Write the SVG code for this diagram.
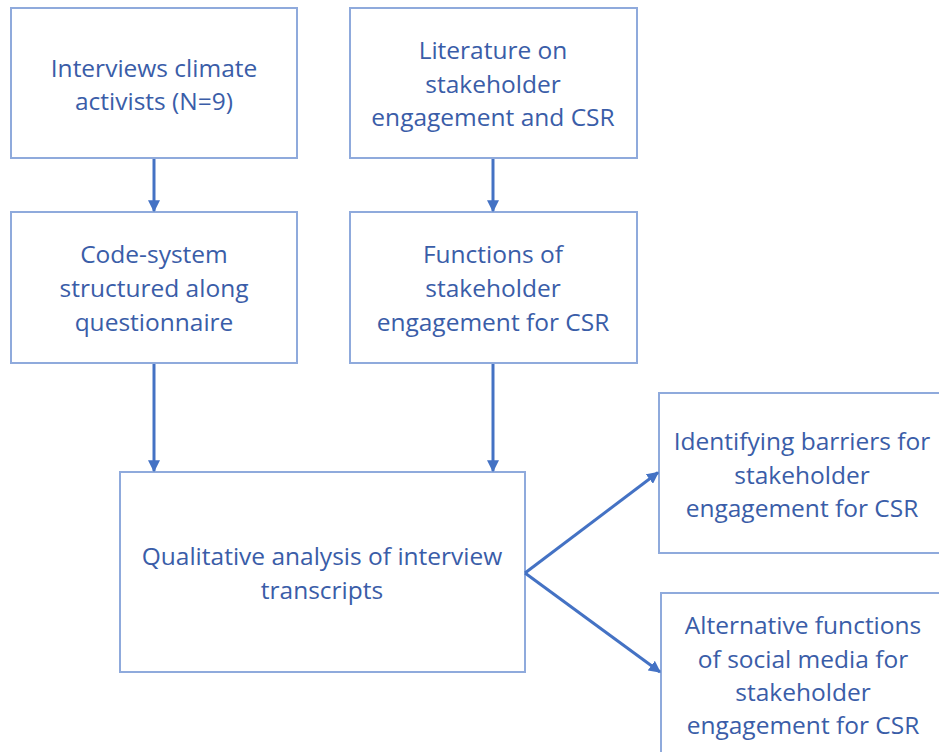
<svg xmlns="http://www.w3.org/2000/svg" width="939" height="752" viewBox="0 0 939 752">
<style>
.box{fill:#fff;stroke:#8FAADC;stroke-width:2}
.t{font-family:"Open Sans","Noto Sans",sans-serif;font-size:24.5px;fill:#3A5DA8;text-anchor:middle}
.c{stroke:#4472C4;stroke-width:3;fill:none}
</style>
<defs>
<marker id="ah" viewBox="0 0 10 10" refX="9" refY="5" markerWidth="4" markerHeight="4" orient="auto" markerUnits="strokeWidth">
<path d="M0,0 L10,5 L0,10 Z" fill="#4472C4"/>
</marker>
</defs>
<rect width="939" height="752" fill="#fff"/>
<g id="n1"><rect class="box" x="11" y="8" width="286" height="150"/>
<text class="t" x="154" y="77">Interviews climate</text><text class="t" x="154" y="110">activists (N=9)</text></g>
<g id="n2"><rect class="box" x="350" y="8" width="287" height="150"/>
<text class="t" x="493" y="59">Literature on</text><text class="t" x="493" y="93">stakeholder</text><text class="t" x="493" y="126">engagement and CSR</text></g>
<g id="n3"><rect class="box" x="11" y="212" width="286" height="151"/>
<text class="t" x="154" y="263">Code-system</text><text class="t" x="154" y="297">structured along</text><text class="t" x="154" y="331">questionnaire</text></g>
<g id="n4"><rect class="box" x="350" y="212" width="287" height="151"/>
<text class="t" x="493" y="263">Functions of</text><text class="t" x="493" y="297">stakeholder</text><text class="t" x="493" y="331">engagement for CSR</text></g>
<g id="n5"><rect class="box" x="120" y="472" width="405" height="200"/>
<text class="t" x="322" y="565">Qualitative analysis of interview</text><text class="t" x="322" y="599">transcripts</text></g>
<g id="n6"><rect class="box" x="659" y="393" width="285" height="160"/>
<text class="t" x="802" y="450">Identifying barriers for</text><text class="t" x="802" y="484">stakeholder</text><text class="t" x="802" y="517">engagement for CSR</text></g>
<g id="n7"><rect class="box" x="661" y="593" width="285" height="170"/>
<text class="t" x="803" y="634">Alternative functions</text><text class="t" x="803" y="668">of social media for</text><text class="t" x="803" y="701">stakeholder</text><text class="t" x="803" y="734">engagement for CSR</text></g>
<g id="connectors">
<line class="c" x1="154" y1="159" x2="154" y2="211" marker-end="url(#ah)"/>
<line class="c" x1="493" y1="159" x2="493" y2="211" marker-end="url(#ah)"/>
<line class="c" x1="154" y1="364" x2="154" y2="471" marker-end="url(#ah)"/>
<line class="c" x1="493" y1="364" x2="493" y2="471" marker-end="url(#ah)"/>
<line class="c" x1="525" y1="573" x2="658" y2="472.5" marker-end="url(#ah)"/>
<line class="c" x1="525" y1="573" x2="660" y2="672" marker-end="url(#ah)"/>
</g>
</svg>
